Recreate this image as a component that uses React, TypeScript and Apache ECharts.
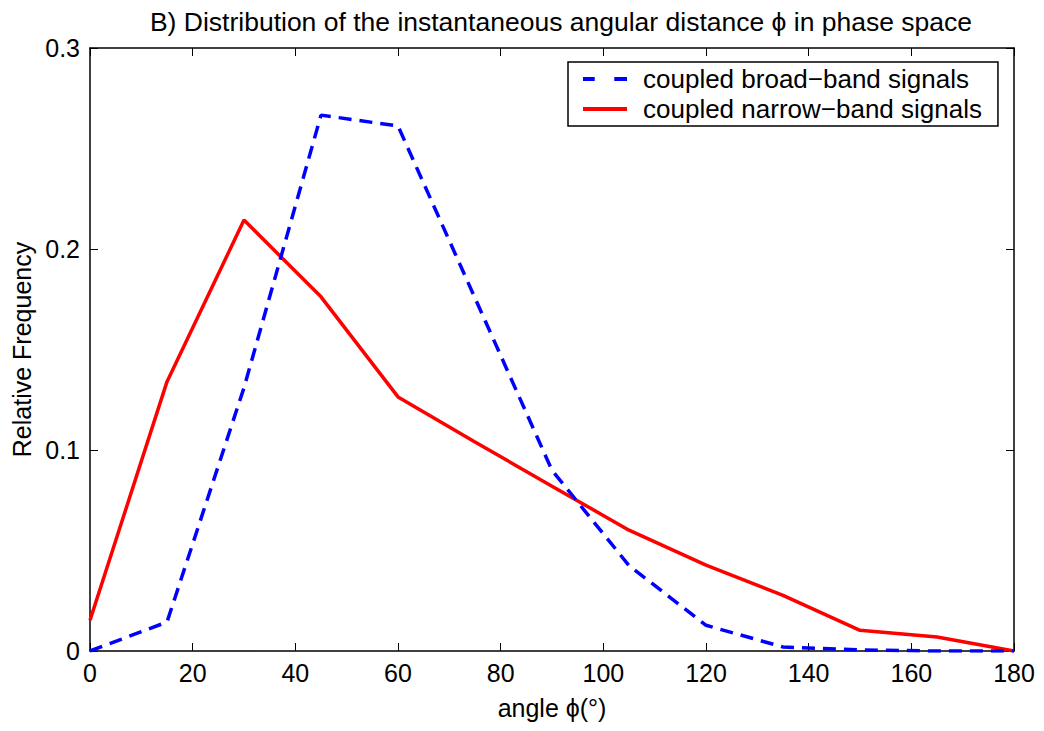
import React, { useEffect, useRef } from "react";
import * as echarts from "echarts";

const angles = [0, 15, 30, 45, 60, 75, 90, 105, 120, 135, 150, 165, 180];
const broadBand = [0, 0.0144, 0.131, 0.2666, 0.2612, 0.1756, 0.0899, 0.0425, 0.0128, 0.002, 0.0005, 0, 0];
const narrowBand = [0.0153, 0.134, 0.2144, 0.1762, 0.1264, 0.104, 0.082, 0.0601, 0.0427, 0.0277, 0.0103, 0.007, 0];
const seriesNames = ["coupled broad\u2212band signals", "coupled narrow\u2212band signals"];
const titleText = "B) Distribution of the instantaneous angular distance \u03d5 in phase space";
const xName = "angle \u03d5(\u00b0)";
const yName = "Relative Frequency";

const FONT = "'Liberation Sans', Arial, Helvetica, sans-serif";

export default function App() {
  const ref = useRef<HTMLDivElement>(null);
  useEffect(() => {
    if (!ref.current) return;
    const chart = echarts.init(ref.current, null, { renderer: "svg" });
    const pair = (ys: number[]) => angles.map((a, i) => [a, ys[i]]);
    const axisCommon = {
      axisLine: { show: true, onZero: false, lineStyle: { color: "#000", width: 1.5 } },
      axisTick: { show: true, inside: true, length: 8, lineStyle: { color: "#000", width: 1 } },
      splitLine: { show: false },
    };
    chart.setOption({
      animation: false,
      backgroundColor: "#fff",
      textStyle: { fontFamily: FONT },
      title: {
        text: titleText,
        left: 556,
        top: 3,
        textAlign: "center",
        textStyle: { fontFamily: FONT, fontSize: 26.5, fontWeight: "normal", color: "#000" },
      },
      grid: { left: 90, right: 30, top: 48, bottom: 80 },
      legend: {
        orient: "vertical",
        left: 568,
        top: 62,
        padding: [4, 16, 4, 15],
        itemGap: 4,
        itemWidth: 44,
        itemHeight: 4,
        borderColor: "#000",
        borderWidth: 1.5,
        borderRadius: 0,
        backgroundColor: "#fff",
        textStyle: { fontFamily: FONT, fontSize: 26, color: "#000", padding: [0, 0, 0, 11] },
        data: [
          { name: seriesNames[0], icon: "path://M0,0h12v4h-12z M32,0h13v4h-13z", itemStyle: { color: "#0000ff" } },
          { name: seriesNames[1], icon: "rect", itemStyle: { color: "#ff0000" } },
        ],
      },
      xAxis: [
        {
          type: "value",
          min: 0,
          max: 180,
          interval: 20,
          position: "bottom",
          name: xName,
          nameLocation: "middle",
          nameGap: 44,
          nameTextStyle: { fontFamily: FONT, fontSize: 25, color: "#000" },
          axisLabel: { color: "#000", fontSize: 25, fontFamily: FONT, margin: 9 },
          ...axisCommon,
        },
        {
          type: "value",
          min: 0,
          max: 180,
          interval: 20,
          position: "top",
          axisLabel: { show: false },
          ...axisCommon,
        },
      ],
      yAxis: [
        {
          type: "value",
          min: 0,
          max: 0.3,
          interval: 0.1,
          position: "left",
          name: yName,
          nameLocation: "middle",
          nameGap: 46,
          nameTextStyle: { fontFamily: FONT, fontSize: 25, color: "#000" },
          axisLabel: { color: "#000", fontSize: 25, fontFamily: FONT, margin: 10 },
          ...axisCommon,
        },
        {
          type: "value",
          min: 0,
          max: 0.3,
          interval: 0.1,
          position: "right",
          axisLabel: { show: false },
          ...axisCommon,
        },
      ],
      series: [
        {
          name: seriesNames[0],
          type: "line",
          data: pair(broadBand),
          symbol: "none",
          lineStyle: { color: "#0000ff", width: 3.5, type: [13, 8] },
          itemStyle: { color: "#0000ff" },
          z: 3,
        },
        {
          name: seriesNames[1],
          type: "line",
          data: pair(narrowBand),
          symbol: "none",
          lineStyle: { color: "#ff0000", width: 3.5, type: "solid" },
          itemStyle: { color: "#ff0000" },
          z: 2,
        },
      ],
    });
    return () => chart.dispose();
  }, []);
  return (
    <div
      ref={ref}
      style={{ position: "fixed", left: 0, top: 0, width: 1044, height: 731, background: "#fff" }}
    />
  );
}
